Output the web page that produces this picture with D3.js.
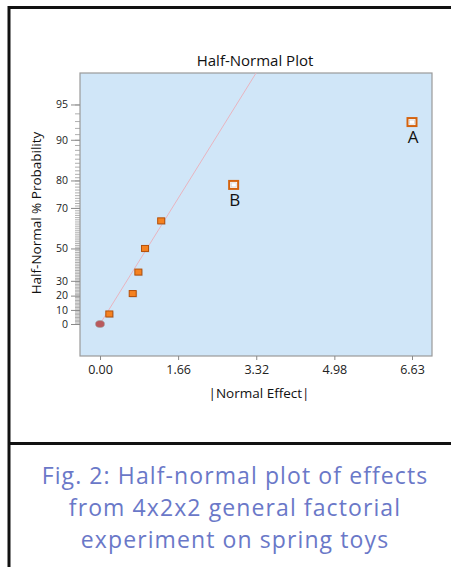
<!DOCTYPE html>
<html>
<head>
<meta charset="utf-8">
<script src="https://cdn.jsdelivr.net/npm/d3@7/dist/d3.min.js"></script>
<style>
  html, body { margin: 0; padding: 0; background: #fff; }
  svg { display: block; }
  text { font-family: "Open Sans", "Noto Sans", sans-serif; }
</style>
</head>
<body>
<svg id="chart" width="451" height="567"></svg>
<script>
// ---- Data ----
const effectTerms   = ["error", "e1", "e2", "e3", "e4", "e5", "B", "A"];
const effectValues  = [0.00, 0.198, 0.695, 0.815, 0.956, 1.30, 2.84, 6.63];
const effectProbs   = [0.0, 7.14, 21.43, 35.71, 50.0, 64.29, 78.57, 92.86];
const markerKinds   = ["error", "effect", "effect", "effect", "effect", "effect", "selected", "selected"];
const pointLabels   = ["", "", "", "", "", "", "B", "A"];
const xTickValues   = [0.00, 1.66, 3.32, 4.98, 6.63];
const yMajorProbs   = [0, 10, 20, 30, 50, 70, 80, 90, 95];
const yMinorProbs   = d3.range(0, 96, 1);
const refLineEffect = [0, 3.6];
const refLineProb   = [0, 98.5];
const chartTitle    = "Half-Normal Plot";
const xAxisTitle    = "|Normal Effect|";
const yAxisTitle    = "Half-Normal % Probability";
const captionLines  = ["Fig. 2: Half-normal plot of effects",
                       "from 4x2x2 general factorial",
                       "experiment on spring toys"];

// inverse standard normal CDF (Acklam)
function normInv(p) {
  const a = [-3.969683028665376e+01, 2.209460984245205e+02, -2.759285104469687e+02,
             1.383577518672690e+02, -3.066479806614716e+01, 2.506628277459239e+00];
  const b = [-5.447609879822406e+01, 1.615858368580409e+02, -1.556989798598866e+02,
             6.680131188771972e+01, -1.328068155288572e+01];
  const c = [-7.784894002430293e-03, -3.223964580411365e-01, -2.400758277161838e+00,
             -2.549732539343734e+00, 4.374664141464968e+00, 2.938163982698783e+00];
  const d = [7.784695709041462e-03, 3.224671290700398e-01, 2.445134137142996e+00,
             3.754408661907416e+00];
  const pl = 0.02425, ph = 1 - pl;
  let q, r;
  if (p < pl) {
    q = Math.sqrt(-2 * Math.log(p));
    return (((((c[0]*q+c[1])*q+c[2])*q+c[3])*q+c[4])*q+c[5]) /
           ((((d[0]*q+d[1])*q+d[2])*q+d[3])*q+1);
  } else if (p <= ph) {
    q = p - 0.5; r = q*q;
    return (((((a[0]*r+a[1])*r+a[2])*r+a[3])*r+a[4])*r+a[5])*q /
           (((((b[0]*r+b[1])*r+b[2])*r+b[3])*r+b[4])*r+1);
  } else {
    q = Math.sqrt(-2 * Math.log(1 - p));
    return -(((((c[0]*q+c[1])*q+c[2])*q+c[3])*q+c[4])*q+c[5]) /
            ((((d[0]*q+d[1])*q+d[2])*q+d[3])*q+1);
  }
}
// half-normal quantile of a percent
const hz = pct => pct <= 0 ? 0 : normInv((1 + pct / 100) / 2);

// ---- Layout ----
const svg = d3.select("#chart");
const plot = { left: 80, right: 432, top: 73, bottom: 356 };
const FONT = "'Open Sans', 'Noto Sans', sans-serif";

const x = d3.scaleLinear().domain([0, 6.63]).range([100, 412]);
const yZ = d3.scaleLinear().domain([-0.2857, 2.241]).range([plot.bottom, plot.top]);
const y = pct => yZ(hz(pct));

// outer frame
svg.append("rect").attr("x", 9).attr("y", 7.5).attr("width", 460).attr("height", 600)
  .attr("fill", "none").attr("stroke", "#111").attr("stroke-width", 3);
svg.append("line").attr("x1", 9).attr("x2", 451).attr("y1", 443.5).attr("y2", 443.5)
  .attr("stroke", "#111").attr("stroke-width", 3);

// plot background
svg.append("rect")
  .attr("x", plot.left).attr("y", plot.top)
  .attr("width", plot.right - plot.left).attr("height", plot.bottom - plot.top)
  .attr("fill", "#d0e6f8").attr("stroke", "#9a9a9a").attr("stroke-width", 1.2);

// title
svg.append("text").attr("x", 255).attr("y", 66).attr("text-anchor", "middle")
  .attr("font-size", 15).attr("fill", "#111").text(chartTitle);

// y axis minor ticks
const yMinorAxis = d3.axisLeft(yZ)
  .tickValues(yMinorProbs.map(hz)).tickSize(5).tickFormat("");
svg.append("g").attr("transform", `translate(${plot.left},0)`).call(yMinorAxis)
  .call(g => g.select(".domain").remove())
  .call(g => g.selectAll("line").attr("stroke", "#9a9a9a").attr("stroke-width", 0.8));

// y axis major ticks
const yAxis = d3.axisLeft(yZ)
  .tickValues(yMajorProbs.map(hz)).tickSize(9).tickPadding(3)
  .tickFormat((d, i) => yMajorProbs[i]);
svg.append("g").attr("transform", `translate(${plot.left},0)`).call(yAxis)
  .call(g => g.select(".domain").remove())
  .call(g => g.selectAll("line").attr("stroke", "#8a8a8a"))
  .call(g => g.selectAll("text").attr("font-size", 10.5).attr("fill", "#222")
    .attr("font-family", FONT));

// x axis
const xAxis = d3.axisBottom(x).tickValues(xTickValues).tickSize(4).tickPadding(5)
  .tickFormat(d3.format(".2f"));
svg.append("g").attr("transform", `translate(0,${plot.bottom})`).call(xAxis)
  .call(g => g.select(".domain").remove())
  .call(g => g.selectAll("line").attr("stroke", "#8a8a8a"))
  .call(g => g.selectAll("text").attr("font-size", 12.5).attr("fill", "#222")
    .attr("font-family", FONT));

// axis titles
svg.append("text").attr("x", 259).attr("y", 398).attr("text-anchor", "middle")
  .attr("font-size", 13.5).attr("fill", "#111").text(xAxisTitle);
svg.append("text").attr("transform", "translate(41,213) rotate(-90)")
  .attr("text-anchor", "middle").attr("font-size", 13.5).attr("fill", "#111").text(yAxisTitle);

// clip
svg.append("clipPath").attr("id", "clip").append("rect")
  .attr("x", plot.left).attr("y", plot.top)
  .attr("width", plot.right - plot.left).attr("height", plot.bottom - plot.top);

// reference line
svg.append("line").attr("clip-path", "url(#clip)")
  .attr("x1", x(refLineEffect[0])).attr("y1", y(refLineProb[0]))
  .attr("x2", x(refLineEffect[1])).attr("y2", y(refLineProb[1]))
  .attr("stroke", "#e8b4bf").attr("stroke-width", 1);

// points
const pts = effectValues.map((v, i) => ({ v, p: effectProbs[i], kind: markerKinds[i], label: pointLabels[i] }));
const g = svg.append("g");

pts.filter(d => d.kind === "error").forEach(d => {
  g.append("ellipse").attr("cx", x(d.v)).attr("cy", y(d.p)).attr("rx", 4.5).attr("ry", 3.5)
    .attr("fill", "#b95a5d").attr("stroke", "#a0a0a0").attr("stroke-width", 0.6);
});
pts.filter(d => d.kind === "effect").forEach(d => {
  const cx = x(d.v), cy = y(d.p);
  g.append("rect").attr("x", cx - 3).attr("y", cy - 2.5).attr("width", 7.5).attr("height", 6.5)
    .attr("fill", "#a8b8c8").attr("opacity", 0.6);
  g.append("rect").attr("x", cx - 3.5).attr("y", cy - 3).attr("width", 7).attr("height", 6)
    .attr("fill", "#f58220").attr("stroke", "#b4500a").attr("stroke-width", 1);
});
pts.filter(d => d.kind === "selected").forEach(d => {
  const cx = x(d.v), cy = y(d.p);
  g.append("rect").attr("x", cx - 4.5).attr("y", cy - 4).attr("width", 9).attr("height", 8)
    .attr("fill", "#fff").attr("stroke", "#d4630f").attr("stroke-width", 2);
  g.append("rect").attr("x", cx - 2.5).attr("y", cy - 2).attr("width", 5).attr("height", 4)
    .attr("fill", "#fff").attr("stroke", "#c8c8c8").attr("stroke-width", 0.6);
  g.append("text").attr("x", cx + 1).attr("y", cy + 21).attr("text-anchor", "middle")
    .attr("font-size", 17).attr("fill", "#111").text(d.label);
});

// caption
svg.append("g").selectAll("text").data(captionLines).join("text")
  .attr("x", 235).attr("y", (d, i) => 484 + i * 32)
  .attr("text-anchor", "middle").attr("font-size", 23).attr("letter-spacing", 1.1)
  .attr("fill", "#6a78c8")
  .text(d => d);
</script>
</body>
</html>
